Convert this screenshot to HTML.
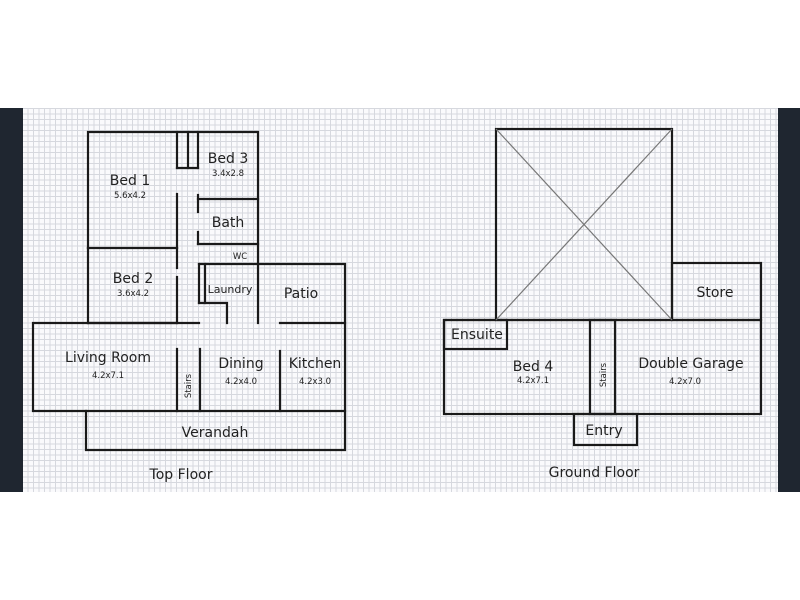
<!DOCTYPE html>
<html><head><meta charset="utf-8"><style>
html,body{margin:0;padding:0;background:#fff;}
#wrap{position:relative;width:800px;height:600px;overflow:hidden;background:#fff;}
#grid{position:absolute;left:0;top:108px;width:800px;height:384px;
background-color:#fafafc;
background-image:linear-gradient(to right,#d6d8de 1px,transparent 1px),linear-gradient(to bottom,#d6d8de 1px,transparent 1px);
background-size:5.5px 5.5px;}
.bar{position:absolute;top:108px;height:384px;width:23px;background:#1f2630;}
svg{position:absolute;left:0;top:0;}
text{font-family:"DejaVu Sans","Liberation Sans",sans-serif;fill:#222;text-anchor:middle;}
</style></head><body><div id="wrap">
<div id="grid"></div>
<div class="bar" style="left:0"></div><div class="bar" style="left:778px"></div>
<svg width="800" height="600" viewBox="0 0 800 600">
<g stroke="#1a1a1a" stroke-width="2.2" fill="none" stroke-linecap="square">
<!-- top floor -->
<polyline points="88,248 88,132 258,132 258,264"/>
<line x1="177" y1="132" x2="177" y2="168"/>
<line x1="188" y1="132" x2="188" y2="168"/>
<line x1="198" y1="132" x2="198" y2="168"/>
<line x1="177" y1="168" x2="198" y2="168"/>
<line x1="177" y1="194" x2="177" y2="248"/>
<line x1="88" y1="248" x2="177" y2="248"/>
<line x1="198" y1="199" x2="258" y2="199"/>
<line x1="198" y1="195" x2="198" y2="212"/>
<line x1="198" y1="232" x2="198" y2="244"/>
<line x1="198" y1="244" x2="258" y2="244"/>
<line x1="88" y1="248" x2="88" y2="323"/>
<line x1="177" y1="248" x2="177" y2="268"/>
<line x1="177" y1="277" x2="177" y2="323"/>
<line x1="88" y1="323" x2="177" y2="323"/>
<polyline points="199,264 345,264 345,323"/>
<line x1="258" y1="264" x2="258" y2="323"/>
<line x1="199" y1="264" x2="199" y2="303"/>
<line x1="205" y1="264" x2="205" y2="303"/>
<polyline points="199,303 227,303 227,323"/>
<polyline points="199,323 33,323 33,411 345,411 345,323 280,323"/>
<line x1="177" y1="349" x2="177" y2="411"/>
<line x1="200" y1="349" x2="200" y2="411"/>
<line x1="280" y1="351" x2="280" y2="411"/>
<polyline points="86,411 86,450 345,450 345,411"/>
<!-- ground floor -->
<rect x="496" y="129" width="176" height="191"/>
<rect x="672" y="263" width="89" height="57"/>
<rect x="444" y="320" width="317" height="94"/>
<rect x="444" y="320" width="63" height="29"/>
<rect x="590" y="320" width="25" height="94"/>
<rect x="574" y="414" width="63" height="31"/>
</g>
<g stroke="#777" stroke-width="1.2">
<line x1="496" y1="129" x2="672" y2="320"/>
<line x1="672" y1="129" x2="496" y2="320"/>
</g>
<g font-size="14">
<text x="130" y="185">Bed 1</text>
<text x="228" y="163">Bed 3</text>
<text x="228" y="227">Bath</text>
<text x="133" y="283">Bed 2</text>
<text x="301" y="298">Patio</text>
<text x="108" y="362">Living Room</text>
<text x="241" y="368">Dining</text>
<text x="315" y="368">Kitchen</text>
<text x="215" y="437">Verandah</text>
<text x="181" y="479">Top Floor</text>
<text x="477" y="339">Ensuite</text>
<text x="533" y="371">Bed 4</text>
<text x="691" y="368">Double Garage</text>
<text x="715" y="297">Store</text>
<text x="604" y="435">Entry</text>
<text x="594" y="477">Ground Floor</text>
</g>
<g font-size="11"><text x="230" y="293">Laundry</text></g>
<g font-size="8.5">
<text x="130" y="198">5.6x4.2</text>
<text x="228" y="176">3.4x2.8</text>
<text x="240" y="259">WC</text>
<text x="133" y="296">3.6x4.2</text>
<text x="108" y="378">4.2x7.1</text>
<text x="241" y="384">4.2x4.0</text>
<text x="315" y="384">4.2x3.0</text>
<text x="533" y="383">4.2x7.1</text>
<text x="685" y="384">4.2x7.0</text>
<text transform="translate(191,386) rotate(-90)">Stairs</text>
<text transform="translate(606,375) rotate(-90)">Stairs</text>
</g>
</svg></div></body></html>
